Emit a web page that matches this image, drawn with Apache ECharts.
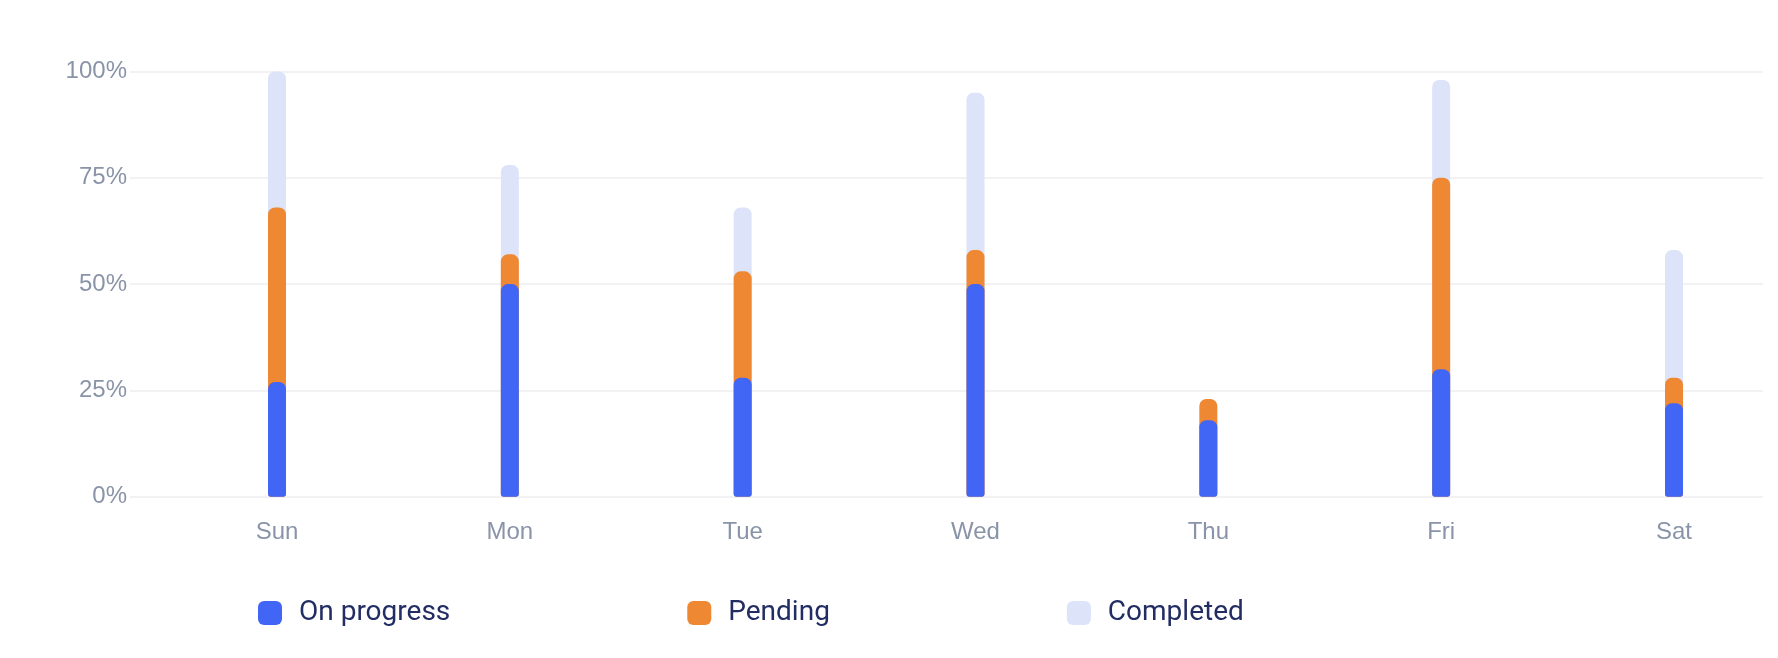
<!DOCTYPE html>
<html>
<head>
<meta charset="utf-8">
<script src="https://cdn.jsdelivr.net/npm/echarts@6/dist/echarts.min.js"></script>
<style>
html,body{margin:0;padding:0;background:#fff;}
#chart{width:1778px;height:658px;}
</style>
</head>
<body>
<div id="chart"></div>
<script>
const days = ['Sun', 'Mon', 'Tue', 'Wed', 'Thu', 'Fri', 'Sat'];
const seriesNames = ['On progress', 'Pending', 'Completed'];
const onProgress = [27, 50, 28, 50, 18, 30, 22];
const pending = [68, 57, 53, 58, 23, 75, 28];
const completed = [100, 78, 68, 95, 0, 98, 58];
const yTicks = [0, 25, 50, 75, 100];

const colors = { 'On progress': '#4166F5', 'Pending': '#EE8833', 'Completed': '#DDE3F9' };
const labelColor = '#8A94A8';

const chart = echarts.init(document.getElementById('chart'), null, { renderer: 'canvas' });

function barSeries(name, data, z) {
  return {
    name: name,
    type: 'bar',
    xAxisIndex: 1,
    yAxisIndex: 1,
    data: data,
    barWidth: 18,
    barGap: '-100%',
    z: z,
    clip: false,
    itemStyle: { color: colors[name], borderRadius: [7, 7, 3, 3] },
    emphasis: { disabled: true }
  };
}

chart.setOption({
  animation: false,
  backgroundColor: '#ffffff',
  color: seriesNames.map(n => colors[n]),
  legend: {
    data: seriesNames,
    left: 253,
    top: 594,
    icon: 'roundRect',
    itemWidth: 24,
    itemHeight: 24,
    itemGap: 237,
    textStyle: {
      fontFamily: 'Roboto',
      fontSize: 28,
      color: '#222D63',
      padding: [0, 0, 0, 12]
    }
  },
  grid: [
    { left: 130, right: 15, top: 71.5, bottom: 161.3 },
    { left: 277, right: 104, top: 71.5, bottom: 161.3 }
  ],
  xAxis: [
    {
      gridIndex: 0, type: 'category', data: days,
      axisLine: { show: false }, axisTick: { show: false }, axisLabel: { show: false }, splitLine: { show: false }
    },
    {
      gridIndex: 1, type: 'category', data: days, boundaryGap: false,
      axisLine: { show: false }, axisTick: { show: false },
      axisLabel: { color: labelColor, fontFamily: 'Liberation Sans', fontSize: 24, margin: 24 }
    }
  ],
  yAxis: [
    {
      gridIndex: 0, type: 'value', min: yTicks[0], max: yTicks[yTicks.length - 1], interval: 25,
      axisLine: { show: false }, axisTick: { show: false },
      axisLabel: { color: labelColor, fontFamily: 'Liberation Sans', fontSize: 24, margin: 3, padding: [2, 0, 0, 0], formatter: '{value}%' },
      splitLine: { show: true, lineStyle: { color: '#F2F2F4', width: 2 } }
    },
    {
      gridIndex: 1, type: 'value', min: yTicks[0], max: yTicks[yTicks.length - 1], interval: 25,
      axisLine: { show: false }, axisTick: { show: false }, axisLabel: { show: false }, splitLine: { show: false }
    }
  ],
  series: [
    barSeries('Completed', completed, 2),
    barSeries('Pending', pending, 3),
    barSeries('On progress', onProgress, 4)
  ]
});
</script>
</body>
</html>
